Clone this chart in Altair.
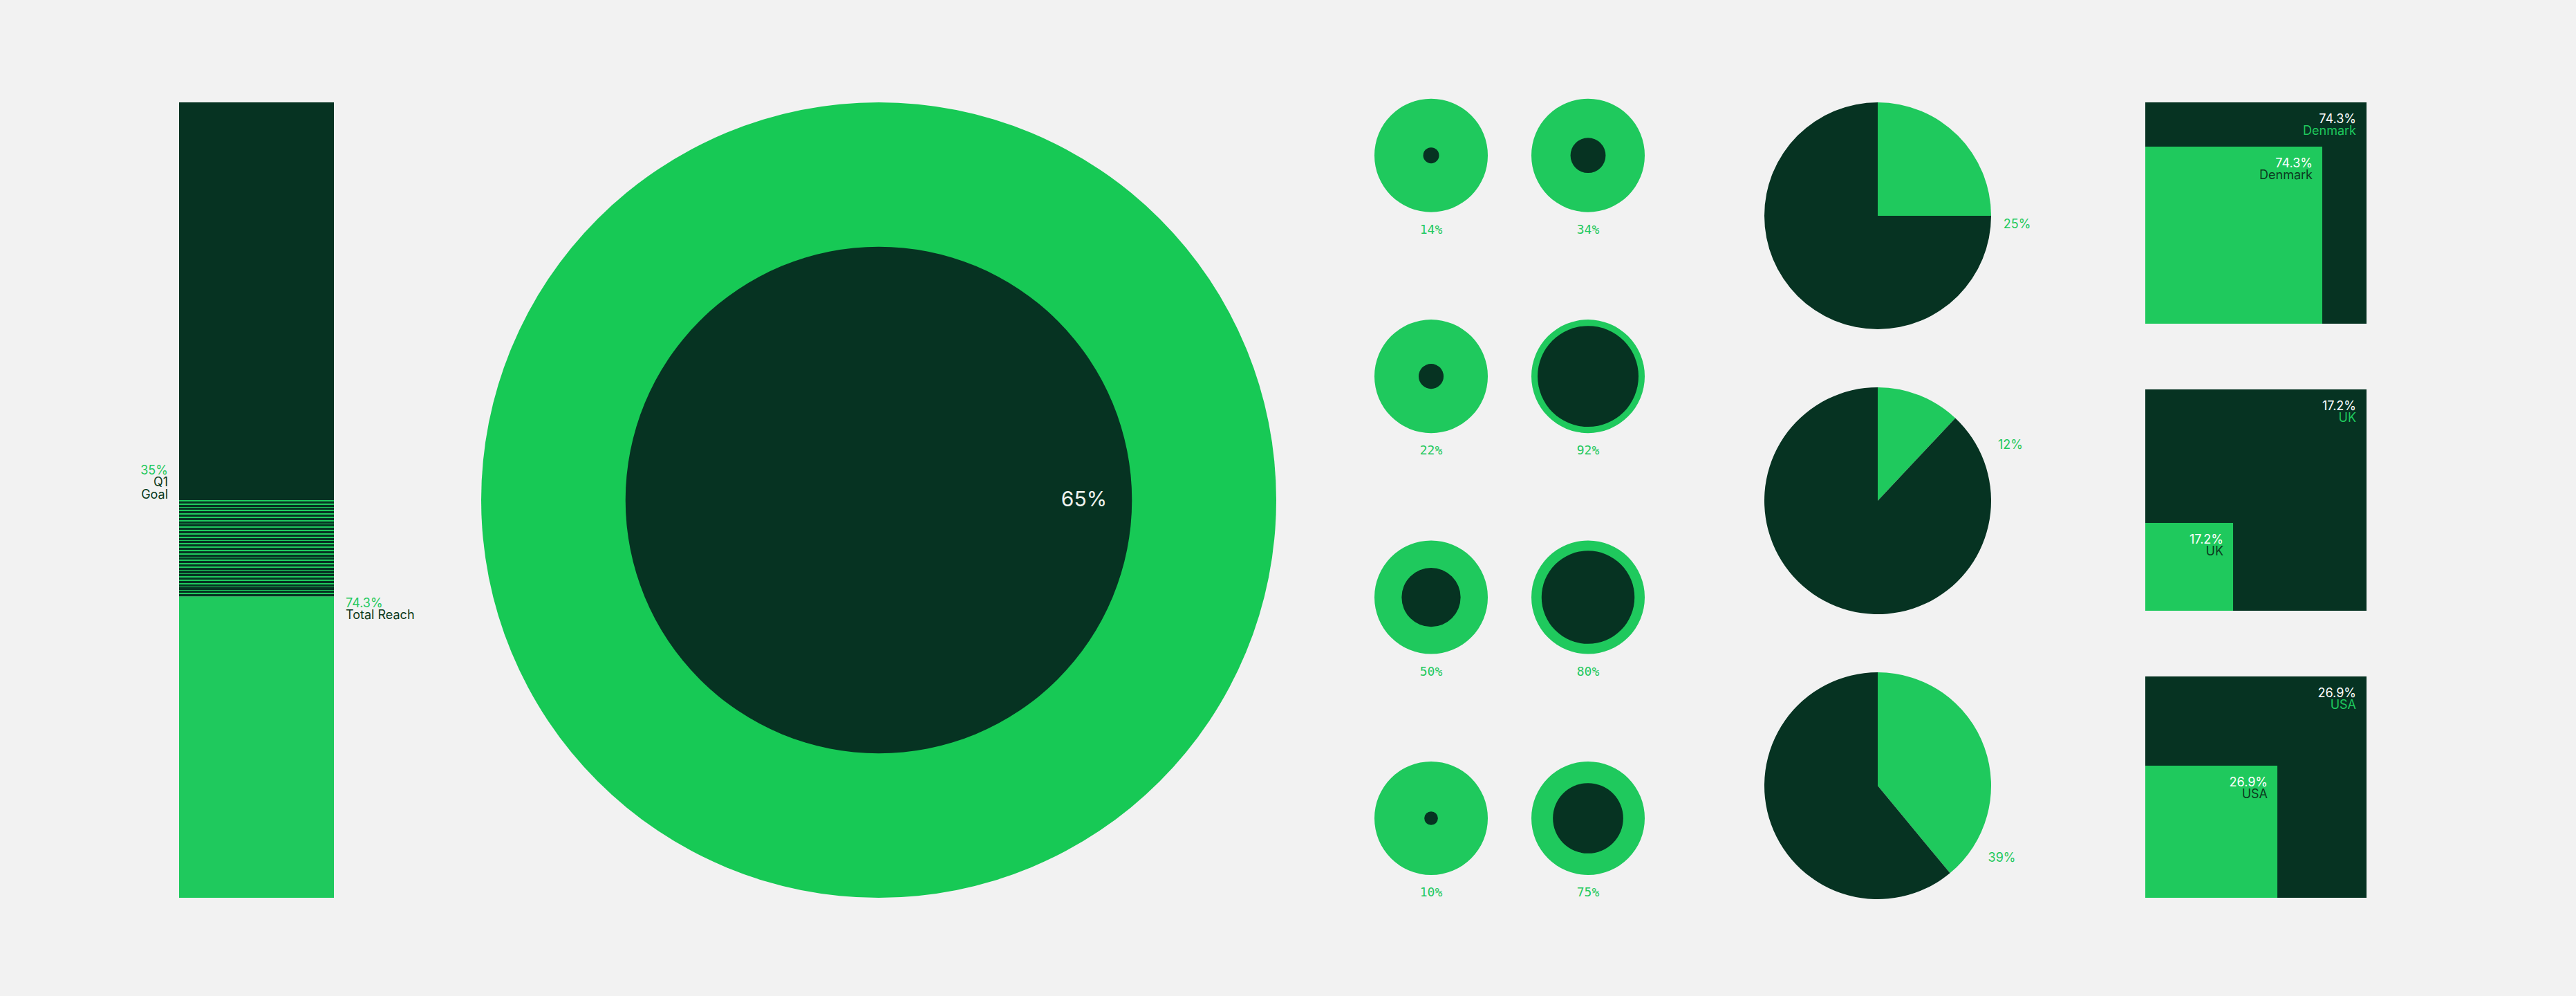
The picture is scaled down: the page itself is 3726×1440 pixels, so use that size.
import math
import altair as alt
import pandas as pd

# ---------------- colours / style ----------------
BG = "#f2f2f2"
DARK = "#063322"
GREEN = "#1fc95d"
GREEN_BIG = "#17c955"
TEXT_DARK = "#0b3a20"
WHITE = "#ffffff"
FONT = "Inter"
MONO = "DejaVu Sans Mono"

# ---------------- data ----------------
# Left stacked bar: segment heights in % of the bar
bar_segments = ["Total Reach", "Goal gap", "Remaining"]
bar_heights = [37.9, 12.1, 50.0]
bar_reach_label = ["74.3%", "Total Reach"]
bar_goal_label = ["35%", "Q1", "Goal"]

# Big donut
donut_label = "65%"
donut_inner_pct = 63.7          # inner disc radius, % of outer radius

# Small circles (2 columns x 4 rows)
circle_labels = ["14%", "34%", "22%", "92%", "50%", "80%", "10%", "75%"]
circle_inner_pct = [14, 31, 22, 89, 52, 82, 12, 62]   # inner disc diameter, % of outer
circle_cols = ["a", "b", "a", "b", "a", "b", "a", "b"]
circle_rows = ["r1", "r1", "r2", "r2", "r3", "r3", "r4", "r4"]

# Pies
pie_values = [25, 12, 39]
pie_labels = ["25%", "12%", "39%"]

# Squares
square_countries = ["Denmark", "UK", "USA"]
square_labels = ["74.3%", "17.2%", "26.9%"]
square_sides = [80.0, 39.7, 59.7]   # inner square side, % of frame side

# ---------------- panel A: stacked bar ----------------
ends = []
acc = 0
for h in bar_heights:
    ends.append(acc + h)
    acc += h
starts = [e - h for e, h in zip(ends, bar_heights)]
bar_df = pd.DataFrame({"seg": bar_segments, "y0": starts, "y1": ends, "col": ["bar"] * 3})

ysc = alt.Scale(domain=[0, 100], nice=False, zero=True)
xband = alt.Scale(type="band", domain=["bar"])

solid = alt.Chart(bar_df).transform_filter(alt.datum.seg != "Goal gap").mark_bar(width=224).encode(
    x=alt.X("col:N", scale=xband, axis=None),
    y=alt.Y("y0:Q", scale=ysc, axis=None),
    y2="y1:Q",
    color=alt.Color("seg:N", scale=alt.Scale(domain=["Total Reach", "Remaining"], range=[GREEN, DARK]), legend=None),
)

n_stripes = 29
stops = []
for i in range(n_stripes):
    a = i / n_stripes
    b = (i + 0.36) / n_stripes
    c = (i + 1) / n_stripes
    stops += [
        alt.GradientStop(offset=round(a, 5), color=GREEN),
        alt.GradientStop(offset=round(b, 5), color=GREEN),
        alt.GradientStop(offset=round(b, 5), color=DARK),
        alt.GradientStop(offset=round(c, 5), color=DARK),
    ]
grad = alt.LinearGradient(gradient="linear", stops=stops, x1=0, x2=0, y1=0, y2=1)

hatch = alt.Chart(bar_df).transform_filter(alt.datum.seg == "Goal gap").mark_bar(width=224, fill=grad).encode(
    x=alt.X("col:N", scale=xband, axis=None),
    y=alt.Y("y0:Q", scale=ysc, axis=None),
    y2="y1:Q",
)


def bar_text(text, yval, color, dx, dy, align):
    df = pd.DataFrame({"col": ["bar"], "y": [yval], "t": [text]})
    return alt.Chart(df).mark_text(
        align=align, baseline="alphabetic", dx=dx, dy=dy, color=color, font=FONT, fontSize=18
    ).encode(
        x=alt.X("col:N", scale=xband, axis=None),
        y=alt.Y("y:Q", scale=ysc, axis=None),
        text="t:N",
    )


goal_top = ends[1]
reach_top = ends[0]
panelA = alt.layer(
    solid,
    hatch,
    bar_text(bar_goal_label[0], goal_top, GREEN, -128, -37, "right"),
    bar_text(bar_goal_label[1], goal_top, TEXT_DARK, -128, -20, "right"),
    bar_text(bar_goal_label[2], goal_top, TEXT_DARK, -128, -2, "right"),
    bar_text(bar_reach_label[0], reach_top, GREEN, 129, 16, "left"),
    bar_text(bar_reach_label[1], reach_top, TEXT_DARK, 129, 33, "left"),
).properties(width=650, height=1150)

# ---------------- panel B: big donut ----------------
donut_df = pd.DataFrame({"part": ["ring", "core"], "r": [100, donut_inner_pct]})
rsc = alt.Scale(type="linear", domain=[0, 100], range=[0, 575], zero=True)
ring = alt.Chart(donut_df).transform_filter(alt.datum.part == "ring").mark_arc(
    theta=0, theta2=2 * math.pi, color=GREEN_BIG
).encode(radius=alt.Radius("r:Q", scale=rsc))
core = alt.Chart(donut_df).transform_filter(alt.datum.part == "core").mark_arc(
    theta=0, theta2=2 * math.pi, color=DARK
).encode(radius=alt.Radius("r:Q", scale=rsc))
donut_txt = alt.Chart(pd.DataFrame({"t": [donut_label]})).mark_text(
    theta=math.pi / 2, radius=297, color="#eef2ee", font=FONT, fontSize=30, align="center", baseline="middle"
).encode(text="t:N")
panelB = alt.layer(ring, core, donut_txt).properties(width=1150, height=1150)

# ---------------- panel C: small circles ----------------
circ_df = pd.DataFrame({"v": circle_inner_pct, "lab": circle_labels, "col": circle_cols, "row": circle_rows})
cx = alt.Scale(type="point", domain=["a", "b"], padding=0.9097, align=0.5424)
cy = alt.Scale(type="point", domain=["r1", "r2", "r3", "r4"], padding=0.3, align=0.4)
D = 164
cbase = alt.Chart(circ_df).encode(
    x=alt.X("col:N", scale=cx, axis=None),
    y=alt.Y("row:N", scale=cy, axis=None),
)
c_outer = cbase.mark_circle(size=D * D, color=GREEN, opacity=1, strokeWidth=0)
c_inner = cbase.mark_circle(color=DARK, opacity=1, strokeWidth=0).encode(
    size=alt.Size("v:Q", scale=alt.Scale(type="pow", exponent=2, domain=[0, 100], range=[0, D * D]), legend=None)
)
c_text = cbase.mark_text(dy=108, font=MONO, fontSize=18, color=GREEN, baseline="middle").encode(text="lab:N")
panelC = alt.layer(c_outer, c_inner, c_text).properties(width=640, height=1150)

# ---------------- panel D: pies ----------------
pie_label_theta = [1.635, 1.176, 2.100]
pie_label_r = [202, 208, 208]


def pie(i):
    df = pd.DataFrame({"part": ["reach", "rest"], "v": [pie_values[i], 100 - pie_values[i]], "o": [0, 1]})
    arcs = alt.Chart(df).mark_arc(radius=164, strokeWidth=0).encode(
        theta=alt.Theta("v:Q", stack=True),
        color=alt.Color("part:N", scale=alt.Scale(domain=["reach", "rest"], range=[GREEN, DARK]), legend=None),
        order=alt.Order("o:Q"),
    )
    txt = alt.Chart(pd.DataFrame({"t": [pie_labels[i]]})).mark_text(
        theta=pie_label_theta[i], radius=pie_label_r[i], color=GREEN, font=FONT, fontSize=18,
        align="center", baseline="middle"
    ).encode(text="t:N")
    return alt.layer(arcs, txt).properties(width=460, height=328)


panelD = alt.vconcat(pie(0), pie(1), pie(2), spacing=84)

# ---------------- panel E: squares ----------------


def square(i):
    df = pd.DataFrame({
        "lo": [0.0], "full": [100.0], "side": [square_sides[i]],
        "pct": [square_labels[i]], "name": [square_countries[i]],
    })
    sc = alt.Scale(domain=[0, 100], nice=False, zero=True)
    base = alt.Chart(df)
    frame = base.mark_rect(color=DARK).encode(
        x=alt.X("lo:Q", scale=sc, axis=None), x2="full:Q",
        y=alt.Y("lo:Q", scale=sc, axis=None), y2="full:Q",
    )
    inner = base.mark_rect(color=GREEN).encode(
        x=alt.X("lo:Q", scale=sc, axis=None), x2="side:Q",
        y=alt.Y("lo:Q", scale=sc, axis=None), y2="side:Q",
    )

    def lab(xf, field, color, dx, dy):
        return base.mark_text(
            align="right", baseline="alphabetic", dx=dx, dy=dy, color=color, font=FONT, fontSize=18
        ).encode(
            x=alt.X(xf + ":Q", scale=sc, axis=None),
            y=alt.Y(xf + ":Q", scale=sc, axis=None),
            text=field + ":N",
        )

    return alt.layer(
        frame, inner,
        lab("full", "pct", WHITE, -15, 30),
        lab("full", "name", GREEN, -15, 47),
        lab("side", "pct", WHITE, -14, 30),
        lab("side", "name", TEXT_DARK, -14, 47),
    ).properties(width=320, height=320)


panelE = alt.vconcat(square(0), square(1), square(2), spacing=95)

right = alt.hconcat(panelD, panelE, spacing=157)

chart = alt.hconcat(panelA, panelB, panelC, right, spacing=0).properties(
    padding={"left": 46, "top": 142, "right": 303, "bottom": 143},
    background=BG,
).configure_view(stroke=None, fill=BG)

chart.save("out.html", embed_options={"renderer": "svg", "actions": False})
